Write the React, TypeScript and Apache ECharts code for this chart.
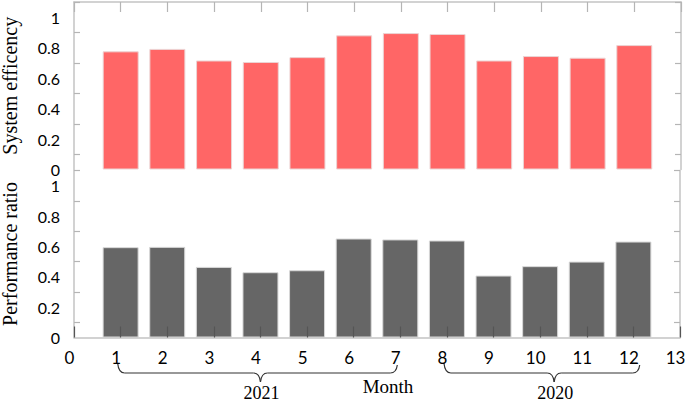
import React, { useEffect, useRef } from "react";
import * as echarts from "echarts";

const months = [1, 2, 3, 4, 5, 6, 7, 8, 9, 10, 11, 12];
const systemEfficiency = [0.776, 0.792, 0.716, 0.706, 0.738, 0.881, 0.896, 0.89, 0.716, 0.745, 0.734, 0.817];
const performanceRatio = [0.595, 0.597, 0.465, 0.43, 0.443, 0.652, 0.646, 0.639, 0.408, 0.47, 0.5, 0.632];
const yLabelValues = [0, 0.2, 0.4, 0.6, 0.8, 1];
const yTickValues = [0.1, 0.3, 0.5, 0.7, 0.9, 1.1];
const yearGroups = [
  { label: "2021", from: 1, to: 7, mid: 4 },
  { label: "2020", from: 8, to: 12.2, mid: 10.3 },
];
const xAxisTitle = "Month";
const topTitle = "System efficency";
const bottomTitle = "Performance ratio";

const AXIS_COLOR = "#c3c3c3";
const LABEL_FONT = "Lato";
const SERIF = "Liberation Serif";

function yAxisPair(gridIndex: number, name: string) {
  const common = {
    gridIndex,
    type: "value",
    min: 0,
    max: 1.1,
    interval: 0.2,
    splitLine: { show: false },
    axisLine: { show: true, onZero: false, lineStyle: { color: AXIS_COLOR, width: 1.5 } },
    axisTick: { show: true, inside: true, length: 6, customValues: yTickValues, lineStyle: { color: "#b5b5b5", width: 1.2 } },
  };
  return [
    {
      ...common,
      position: "left",
      name,
      nameLocation: "middle",
      nameGap: 54,
      nameRotate: 90,
      nameTextStyle: { fontFamily: SERIF, fontSize: 20, lineHeight: 20, color: "#000" },
      axisLabel: {
        show: true,
        customValues: yLabelValues,
        margin: 14,
        fontFamily: LABEL_FONT,
        fontSize: 16,
        lineHeight: 13,
        color: "#000",
      },
    },
    {
      ...common,
      position: "right",
      axisLabel: { show: false },
    },
  ];
}

export default function App() {
  const ref = useRef<HTMLDivElement>(null);
  useEffect(() => {
    document.body.style.margin = "0";
    if (!ref.current) return;
    const chart = echarts.init(ref.current, undefined, { renderer: "svg" });
    const option: any = {
      animation: false,
      backgroundColor: "#fff",
      grid: [
        { left: 74, top: 2, width: 607, height: 167.5, containLabel: false, outerBoundsMode: "none" },
        { left: 74, top: 170.5, width: 606, height: 167, containLabel: false, outerBoundsMode: "none" },
      ],
      xAxis: [
        {
          gridIndex: 0,
          type: "value",
          position: "top",
          min: 0,
          max: 13,
          interval: 1,
          splitLine: { show: false },
          axisLine: { show: true, onZero: false, lineStyle: { color: AXIS_COLOR, width: 1.5 } },
          axisTick: { show: true, inside: true, length: 10, lineStyle: { color: "#b5b5b5", width: 1.2 } },
          axisLabel: { show: false },
        },
        {
          gridIndex: 1,
          type: "value",
          position: "bottom",
          min: 0,
          max: 13,
          interval: 1,
          z: 5,
          splitLine: { show: false },
          axisLine: { show: true, onZero: false, lineStyle: { color: AXIS_COLOR, width: 1.5 } },
          axisTick: { show: true, inside: true, length: 11, lineStyle: { color: "#555", width: 1.2 } },
          axisLabel: { show: true, margin: 11, fontFamily: LABEL_FONT, fontSize: 17, color: "#000", padding: [0, 9, 0, 0] },
        },
      ],
      yAxis: [...yAxisPair(0, topTitle), ...yAxisPair(1, bottomTitle)],
      series: [
        {
          type: "bar",
          xAxisIndex: 0,
          yAxisIndex: 0,
          barWidth: 36,
          data: months.map((m, i) => [m, systemEfficiency[i]]),
          itemStyle: { color: "#ff6666", borderColor: "#ecd4d4", borderWidth: 1 },
        },
        {
          type: "bar",
          xAxisIndex: 1,
          yAxisIndex: 2,
          barWidth: 36,
          data: months.map((m, i) => [m, performanceRatio[i]]),
          itemStyle: { color: "#666666", borderColor: "#d8d8d8", borderWidth: 1 },
        },
      ],
    };
    chart.setOption(option);

    const px = (v: number) => chart.convertToPixel({ xAxisIndex: 1 } as any, v) as number;
    const y = 373;
    const stroke = { stroke: "#333", lineWidth: 1.2, fill: "none" };
    const graphics: any[] = [];
    yearGroups.forEach((g) => {
      const x1 = px(g.from) - 3;
      const x2 = px(g.to) - 3;
      const xm = px(g.mid);
      graphics.push(
        { type: "bezierCurve", shape: { x1, y1: y - 10, x2: x1 + 7, y2: y, cpx1: x1 + 1, cpy1: y }, style: stroke },
        { type: "line", shape: { x1: x1 + 7, y1: y, x2: xm - 7, y2: y }, style: stroke },
        { type: "bezierCurve", shape: { x1: xm - 7, y1: y, x2: xm, y2: y + 9, cpx1: xm - 1, cpy1: y }, style: stroke },
        { type: "bezierCurve", shape: { x1: xm, y1: y + 9, x2: xm + 7, y2: y, cpx1: xm + 1, cpy1: y }, style: stroke },
        { type: "line", shape: { x1: xm + 7, y1: y, x2: x2 - 7, y2: y }, style: stroke },
        { type: "bezierCurve", shape: { x1: x2 - 7, y1: y, x2: x2, y2: y - 8, cpx1: x2 - 1, cpy1: y }, style: stroke },
        {
          type: "text",
          x: xm + 1,
          y: 393,
          style: { text: g.label, fontFamily: SERIF, fontSize: 18, fill: "#000", align: "center", verticalAlign: "middle" },
        }
      );
    });
    graphics.push({
      type: "text",
      x: 388,
      y: 386,
      style: { text: xAxisTitle, fontFamily: SERIF, fontSize: 19, fill: "#000", align: "center", verticalAlign: "middle" },
    });
    chart.setOption({ graphic: graphics });

    return () => chart.dispose();
  }, []);
  return <div ref={ref} style={{ width: 685, height: 403 }} />;
}
